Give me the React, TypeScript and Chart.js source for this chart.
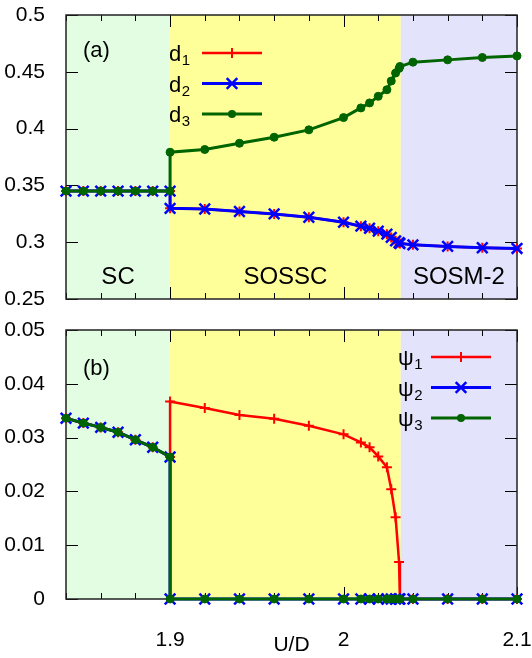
import React, { useEffect, useRef } from "react";
import { Chart, registerables } from "chart.js";

Chart.register(...registerables);

const FAMILY = "'Liberation Sans', Arial, Helvetica, sans-serif";

// ---- regions ----
const regionBounds = [1.84, 1.9, 2.033, 2.1];
const regionNames = ["SC", "SOSSC", "SOSM-2"];
const regionColors = ["#e3fde3", "#ffff99", "#e3e3fb"];

// ---- x values ----
const xSC = [1.84, 1.85, 1.86, 1.87, 1.88, 1.89, 1.9];
const xOrd = [1.9, 1.92, 1.94, 1.96, 1.98, 2.0, 2.01, 2.015, 2.02, 2.025, 2.0275, 2.03, 2.032, 2.0325, 2.04, 2.06, 2.08, 2.1];

// ---- panel (a): d ----
const dSC = [0.345, 0.345, 0.345, 0.345, 0.345, 0.345, 0.345];
const d1Ord = [0.3298, 0.3292, 0.327, 0.3249, 0.322, 0.3176, 0.3141, 0.3123, 0.3097, 0.3071, 0.3042, 0.3012, 0.2995, 0.2989, 0.2977, 0.2963, 0.2951, 0.2945];
const d2Ord = [0.3298, 0.3292, 0.327, 0.3249, 0.322, 0.3176, 0.3141, 0.3123, 0.3097, 0.3071, 0.3042, 0.3012, 0.2995, 0.2989, 0.2977, 0.2963, 0.2951, 0.2945];
const d3Ord = [0.3792, 0.3816, 0.3871, 0.3924, 0.3989, 0.4097, 0.4182, 0.4226, 0.4284, 0.4342, 0.4419, 0.4489, 0.453, 0.4547, 0.4585, 0.4605, 0.4626, 0.464];

// ---- panel (b): psi ----
const psiSC = [0.0336, 0.0327, 0.0319, 0.031, 0.0296, 0.0282, 0.0264];
const psi1Ord = [0.0367, 0.0355, 0.0342, 0.0335, 0.0322, 0.0306, 0.0291, 0.0282, 0.0265, 0.0245, 0.0204, 0.0152, 0.0069, 0, 0, 0, 0, 0];
const psi2Ord = [0, 0, 0, 0, 0, 0, 0, 0, 0, 0, 0, 0, 0, 0, 0, 0, 0, 0];
const psi3Ord = [0, 0, 0, 0, 0, 0, 0, 0, 0, 0, 0, 0, 0, 0, 0, 0, 0, 0];

// ---- axis settings ----
const xMin = 1.84, xMax = 2.1, xStep = 0.02;
const yTopMin = 0.25, yTopMax = 0.5, yTopStep = 0.05;
const yBotMin = 0, yBotMax = 0.05, yBotStep = 0.01;

const styles = [
  { color: "#ff0000", pointStyle: "cross", radius: 5, lw: 2.5, pbw: 2 },
  { color: "#0000ff", pointStyle: "crossRot", radius: 7.5, lw: 3, pbw: 2.5 },
  { color: "#006400", pointStyle: "circle", radius: 4, lw: 3, pbw: 1 },
];

const toPts = (xs: number[], ys: number[]) => xs.map((x, i) => ({ x, y: ys[i] }));

const isMajorX = (v: number) => Math.abs(v * 10 - Math.round(v * 10)) < 1e-6;

function drawMarker(ctx: CanvasRenderingContext2D, style: string, cx: number, cy: number, r: number, color: string, lw: number) {
  ctx.save();
  ctx.strokeStyle = color;
  ctx.fillStyle = color;
  ctx.lineWidth = lw;
  ctx.beginPath();
  if (style === "cross") {
    ctx.moveTo(cx - r, cy); ctx.lineTo(cx + r, cy);
    ctx.moveTo(cx, cy - r); ctx.lineTo(cx, cy + r);
    ctx.stroke();
  } else if (style === "crossRot") {
    const d = r * Math.SQRT1_2;
    ctx.moveTo(cx - d, cy - d); ctx.lineTo(cx + d, cy + d);
    ctx.moveTo(cx - d, cy + d); ctx.lineTo(cx + d, cy - d);
    ctx.stroke();
  } else {
    ctx.arc(cx, cy, r, 0, Math.PI * 2);
    ctx.fill();
  }
  ctx.restore();
}

const panelPlugin = {
  id: "panel",
  beforeDatasetsDraw(chart: any, _args: any, opts: any) {
    const { ctx, chartArea: ca, scales } = chart;
    const x = scales.x, y = scales.y;
    ctx.save();
    // regions
    for (let i = 0; i < regionNames.length; i++) {
      const x0 = x.getPixelForValue(regionBounds[i]);
      const x1 = x.getPixelForValue(regionBounds[i + 1]);
      ctx.fillStyle = regionColors[i];
      ctx.fillRect(x0, ca.top, x1 - x0, ca.bottom - ca.top);
    }
    if (opts.showRegionNames) {
      ctx.fillStyle = "#000";
      ctx.font = `24px ${FAMILY}`;
      ctx.textAlign = "center";
      ctx.textBaseline = "middle";
      for (let i = 0; i < regionNames.length; i++) {
        const x0 = x.getPixelForValue(regionBounds[i]);
        const x1 = x.getPixelForValue(regionBounds[i + 1]);
        ctx.fillText(regionNames[i], (x0 + x1) / 2, ca.bottom - 22);
      }
    }
    // ticks (inward, mirrored)
    ctx.strokeStyle = "#000";
    ctx.lineWidth = 1;
    ctx.beginPath();
    x.ticks.forEach((t: any) => {
      const px = Math.round(x.getPixelForValue(t.value)) + 0.5;
      const len = isMajorX(t.value) ? 12 : 6;
      ctx.moveTo(px, ca.bottom); ctx.lineTo(px, ca.bottom - len);
      ctx.moveTo(px, ca.top); ctx.lineTo(px, ca.top + len);
    });
    y.ticks.forEach((t: any) => {
      const py = Math.round(y.getPixelForValue(t.value)) + 0.5;
      ctx.moveTo(ca.left, py); ctx.lineTo(ca.left + 12, py);
      ctx.moveTo(ca.right, py); ctx.lineTo(ca.right - 12, py);
    });
    ctx.stroke();
    // border
    ctx.strokeStyle = "#222";
    ctx.lineWidth = 1.5;
    ctx.strokeRect(ca.left, ca.top, ca.right - ca.left, ca.bottom - ca.top);
    // panel label
    ctx.fillStyle = "#000";
    ctx.font = `22px ${FAMILY}`;
    ctx.textAlign = "left";
    ctx.textBaseline = "middle";
    ctx.fillText(opts.label, ca.left + 17, ca.top + opts.labelDy);
    ctx.restore();
  },
  afterDatasetsDraw(chart: any, _args: any, opts: any) {
    const { ctx, chartArea: ca } = chart;
    ctx.save();
    opts.legend.forEach((name: string, i: number) => {
      const ry = ca.top + opts.legendDy + i * 30.5;
      const lx = opts.legendX;
      ctx.fillStyle = "#000";
      ctx.textAlign = "left";
      ctx.textBaseline = "alphabetic";
      ctx.font = `22px ${FAMILY}`;
      ctx.fillText(name, lx, ry + 8);
      const w = ctx.measureText(name).width;
      ctx.font = `15px ${FAMILY}`;
      ctx.fillText(String(i + 1), lx + w + 0.5, ry + 12);
      const s = styles[i];
      ctx.strokeStyle = s.color;
      ctx.lineWidth = s.lw;
      ctx.beginPath();
      ctx.moveTo(lx + 33, ry);
      ctx.lineTo(lx + 93, ry);
      ctx.stroke();
      drawMarker(ctx, s.pointStyle, lx + 63, ry, s.radius, s.color, s.pbw);
    });
    ctx.restore();
  },
};

function makeDataset(data: { x: number; y: number }[], i: number) {
  const s = styles[i];
  return {
    data,
    borderColor: s.color,
    backgroundColor: s.color,
    borderWidth: s.lw,
    pointStyle: s.pointStyle,
    pointRadius: s.radius,
    pointBorderWidth: s.pbw,
    pointBorderColor: s.color,
    pointBackgroundColor: s.color,
    tension: 0,
    fill: false,
    clip: false,
    order: 3 - i,
  };
}

function makeConfig(which: "a" | "b"): any {
  const top = which === "a";
  const series = top
    ? [toPts(xSC, dSC).concat(toPts(xOrd, d1Ord)), toPts(xSC, dSC).concat(toPts(xOrd, d2Ord)), toPts(xSC, dSC).concat(toPts(xOrd, d3Ord))]
    : [toPts(xSC, psiSC).concat(toPts(xOrd, psi1Ord)), toPts(xSC, psiSC).concat(toPts(xOrd, psi2Ord)), toPts(xSC, psiSC).concat(toPts(xOrd, psi3Ord))];
  return {
    type: "line",
    data: { datasets: series.map((d, i) => makeDataset(d, i)) },
    plugins: [panelPlugin],
    options: {
      animation: false,
      responsive: false,
      devicePixelRatio: 1,
      layout: { padding: { top: top ? 15 : 20, right: 15, left: 0, bottom: 0 } },
      plugins: {
        legend: { display: false },
        tooltip: { enabled: false },
        panel: top
          ? { label: "(a)", labelDy: 36, legend: ["d", "d", "d"], legendX: 169, legendDy: 38, showRegionNames: true }
          : { label: "(b)", labelDy: 39, legend: ["\u03c8", "\u03c8", "\u03c8"], legendX: 398, legendDy: 27, showRegionNames: false },
      },
      scales: {
        x: {
          type: "linear",
          position: "bottom",
          min: xMin,
          max: xMax,
          grid: { display: false },
          border: { display: false },
          ticks: {
            display: !top,
            stepSize: xStep,
            autoSkip: false,
            maxRotation: 0,
            padding: 0,
            color: "#000",
            font: { family: FAMILY, size: 21, lineHeight: "66px" },
            callback: (v: number) => (isMajorX(v) ? String(Math.round(v * 10) / 10) : ""),
          },
          title: top
            ? { display: false }
            : { display: true, text: "U/D", color: "#000", font: { family: FAMILY, size: 21 }, padding: 0 },
          afterFit: (s: any) => {
            s.height = top ? 11 : 59;
            s.paddingLeft = 0;
            s.paddingRight = 0;
          },
        },
        y: {
          type: "linear",
          min: top ? yTopMin : yBotMin,
          max: top ? yTopMax : yBotMax,
          grid: { display: false },
          border: { display: false },
          ticks: {
            stepSize: top ? yTopStep : yBotStep,
            padding: 13,
            color: "#000",
            font: { family: FAMILY, size: 21, lineHeight: 1 },
            callback: (v: number) => String(Number(v.toFixed(3))),
          },
          afterFit: (s: any) => {
            s.width = 66;
            s.paddingTop = 0;
            s.paddingBottom = 0;
          },
        },
      },
    },
  };
}

function Panel({ which, top, height }: { which: "a" | "b"; top: number; height: number }) {
  const ref = useRef<HTMLCanvasElement>(null);
  useEffect(() => {
    const chart = new Chart(ref.current as HTMLCanvasElement, makeConfig(which));
    return () => chart.destroy();
  }, [which]);
  return (
    <canvas
      ref={ref}
      width={532}
      height={height}
      style={{ position: "absolute", left: 0, top, width: 532, height, display: "block" }}
    />
  );
}

export default function App() {
  return (
    <div style={{ position: "absolute", left: 0, top: 0, width: 532, height: 658, background: "#fff" }}>
      <Panel which="a" top={0} height={310} />
      <Panel which="b" top={310} height={348} />
    </div>
  );
}
